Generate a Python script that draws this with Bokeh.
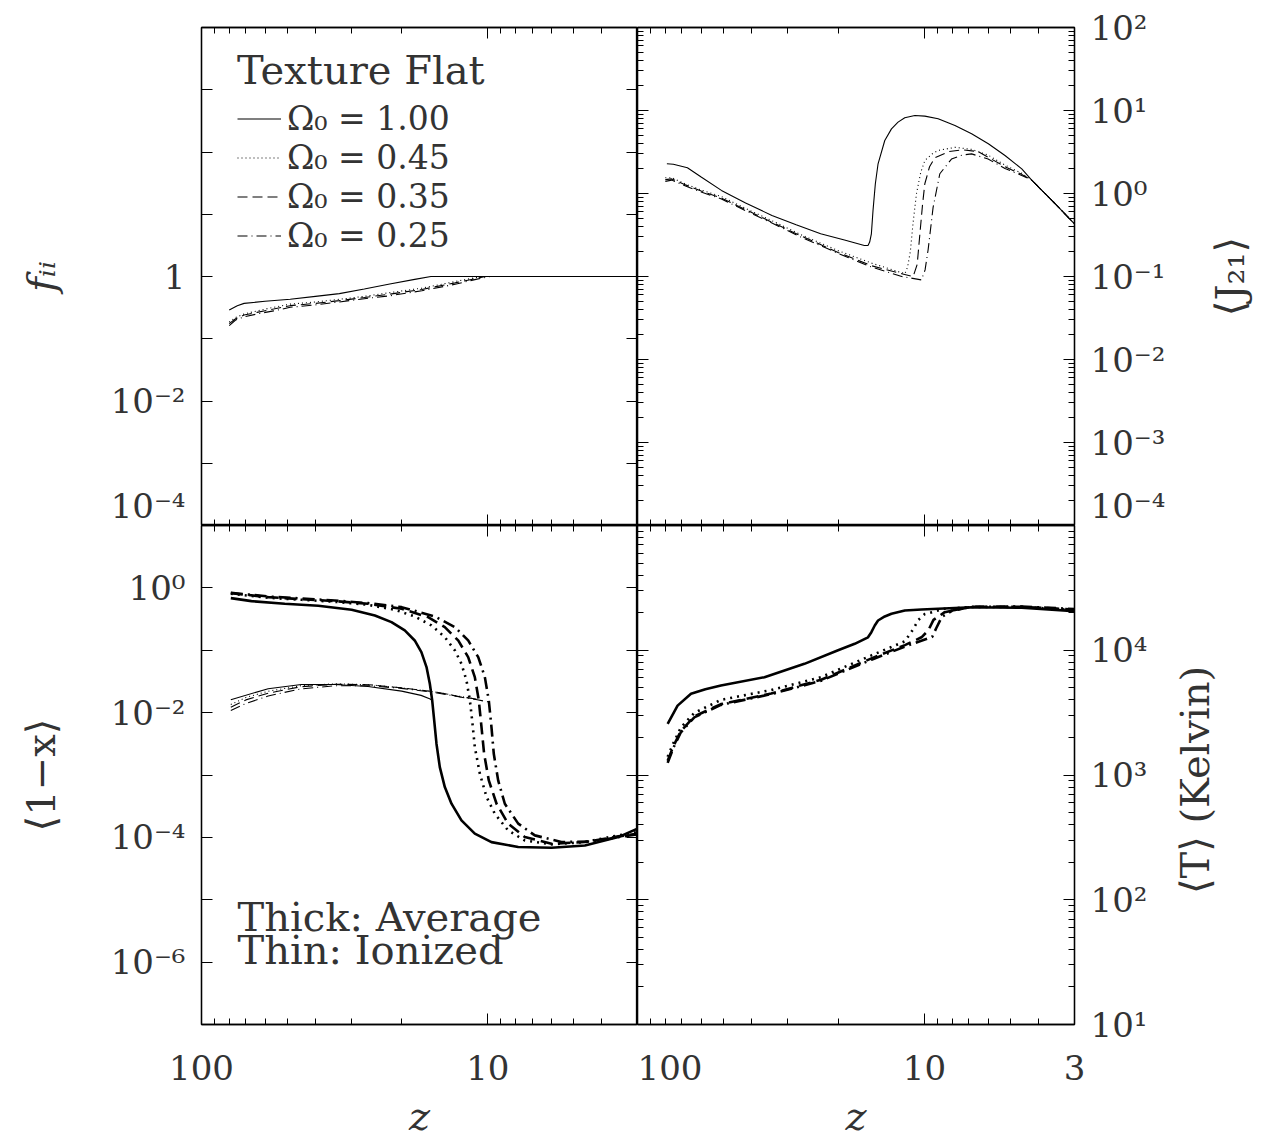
import math
from bokeh.plotting import figure
from bokeh.layouts import gridplot
from bokeh.models import Range1d, LogAxis, FixedTicker, Legend, LegendItem, Label
from bokeh.core.properties import value
from bokeh.embed import file_html
from bokeh.resources import INLINE

# ---------------- data ----------------
OMEGA_LABELS = ["Ω₀ = 1.00", "Ω₀ = 0.45", "Ω₀ = 0.35", "Ω₀ = 0.25"]
X_TICKS_LEFT = [10, 100]
X_TICKS_RIGHT = [3, 10, 100]
X_LABELS = {100: "100", 10: "10", 3: "3"}
X_MINOR = [4, 5, 6, 7, 8, 9, 20, 30, 40, 50, 60, 70, 80, 90]

# top-left: f_II
z_fii_100 = [80, 75, 71, 60, 49, 40, 33, 27, 22, 18, 15.8, 10, 5, 3]
fii_100 = [0.29, 0.34, 0.37, 0.40, 0.43, 0.48, 0.53, 0.63, 0.76, 0.90, 1.0, 1.0, 1.0, 1.0]
z_fii_045 = [80, 76, 71, 64, 56, 49, 40, 33, 27, 22, 17, 13, 11, 10.5, 3]
fii_045 = [0.185, 0.22, 0.25, 0.28, 0.32, 0.36, 0.39, 0.43, 0.48, 0.55, 0.65, 0.83, 0.96, 1.0, 1.0]
z_fii_035 = [80, 76, 71, 64, 56, 49, 40, 33, 27, 22, 17, 13, 11, 10.2, 3]
fii_035 = [0.175, 0.21, 0.24, 0.265, 0.30, 0.34, 0.37, 0.41, 0.46, 0.52, 0.62, 0.79, 0.93, 1.0, 1.0]
z_fii_025 = [80, 76, 71, 64, 56, 49, 40, 33, 27, 22, 17, 13, 11, 9.8, 3]
fii_025 = [0.163, 0.20, 0.225, 0.25, 0.28, 0.32, 0.35, 0.39, 0.44, 0.49, 0.59, 0.75, 0.90, 1.0, 1.0]

# top-right: <J21>
z_j_100 = [79, 75, 67, 60, 51, 42, 34, 28, 23, 19, 16.2, 15.73, 15.52, 15.31, 15.11, 14.83, 14.51, 13.75,
           13.03, 12.36, 11.71, 10.8, 9.97, 8.96, 7.83, 6.85, 5.99, 5.24, 4.58, 4.23, 3.5, 3.0]
j_100 = [2.28, 2.25, 2.04, 1.58, 1.09, 0.77, 0.543, 0.42, 0.327, 0.275, 0.236, 0.236, 0.26, 0.327, 0.624, 1.31,
         2.28, 4.35, 6.01, 7.24, 8.16, 8.71, 8.55, 7.94, 6.6, 5.24, 3.98, 2.87, 1.98, 1.45, 0.75, 0.43]
z_j_045 = [80, 76, 68, 60, 51, 42, 34, 27, 20, 15.3, 11.7, 11.45, 11.2, 10.95, 10.66, 10.3, 9.97, 9.4, 8.96,
           7.83, 6.85, 6.0, 5.24, 4.58, 4.23, 3.5, 3.0]
j_045 = [1.55, 1.55, 1.3, 1.1, 0.92, 0.66, 0.47, 0.32, 0.205, 0.145, 0.108, 0.13, 0.2, 0.45, 1.0, 1.8, 2.5, 3.0,
         3.3, 3.6, 3.4, 2.9, 2.2, 1.75, 1.45, 0.75, 0.43]
z_j_035 = [80, 76, 68, 60, 51, 42, 34, 27, 20, 15.3, 12, 10.95, 10.6, 10.37, 10.15, 9.97, 9.6, 9.2, 8.2, 7.33,
           6.5, 5.24, 4.58, 4.23, 3.5, 3.0]
j_035 = [1.47, 1.5, 1.27, 1.07, 0.88, 0.64, 0.45, 0.31, 0.195, 0.135, 0.108, 0.1, 0.14, 0.33, 0.75, 1.31, 2.1,
         2.7, 3.2, 3.36, 3.2, 2.1, 1.7, 1.45, 0.75, 0.43]
z_j_025 = [80, 76, 68, 60, 51, 42, 34, 27, 20, 15.3, 12, 10.24, 9.95, 9.71, 9.33, 8.84, 8.05, 7.4, 6.85, 6.0,
           5.24, 4.58, 4.23, 3.5, 3.0]
j_025 = [1.40, 1.45, 1.23, 1.04, 0.86, 0.62, 0.44, 0.30, 0.19, 0.13, 0.1, 0.091, 0.12, 0.21, 0.68, 1.73, 2.6,
         2.9, 3.0, 2.6, 2.0, 1.65, 1.45, 0.75, 0.43]

# bottom-left: <1-x>, thick = average
z_avg_100 = [79.0, 66.9, 51.2, 39.1, 29.9, 24.8, 21.7, 19.5, 18.0, 17.06, 16.37, 15.94, 15.64, 15.39, 15.11,
             14.71, 14.13, 13.39, 12.36, 11.1, 9.71, 7.83, 5.99, 4.58, 3.5, 3.0]
avg_100 = [0.685, 0.613, 0.556, 0.516, 0.445, 0.361, 0.282, 0.208, 0.1435, 0.0933, 0.0537, 0.029, 0.0157,
           0.0075, 3.17e-3, 1.34e-3, 6.4e-4, 3.47e-4, 1.87e-4, 1.15e-4, 8.4e-5, 7.0e-5, 6.8e-5, 7.4e-5,
           1.01e-4, 1.38e-4]
z_avg_045 = [79.0, 58.5, 44.7, 34.2, 26.2, 21.1, 18.0, 15.73, 14.13, 13.03, 12.36, 11.87, 11.55, 11.34, 11.1,
             10.66, 10.10, 9.45, 8.49, 7.43, 5.99, 4.58, 3.5, 3.0]
avg_045 = [0.803, 0.693, 0.644, 0.598, 0.535, 0.445, 0.348, 0.2497, 0.1624, 0.0993, 0.0607, 0.0328, 0.01568,
           7.5e-3, 2.8e-3, 1.05e-3, 4.43e-4, 2.39e-4, 1.29e-4, 8.95e-5, 7.72e-5, 8.41e-5, 1.077e-4, 1.22e-4]
z_avg_035 = [79.0, 58.5, 44.7, 34.2, 26.2, 20.0, 16.16, 14.13, 12.69, 11.71, 11.1, 10.75, 10.52, 10.30, 9.92,
             9.32, 8.49, 7.43, 5.99, 4.58, 3.5, 3.0]
avg_035 = [0.823, 0.710, 0.660, 0.613, 0.556, 0.462, 0.340, 0.2348, 0.1436, 0.0776, 0.0371, 0.01568, 5.86e-3,
           2.19e-3, 8.19e-4, 3.46e-4, 1.66e-4, 1.012e-4, 7.91e-5, 8.41e-5, 1.038e-4, 1.145e-4]
z_avg_025 = [79.0, 58.5, 44.7, 34.2, 26.2, 20.0, 15.31, 13.03, 11.71, 10.80, 10.24, 9.92, 9.71, 9.53, 9.20,
             8.72, 7.83, 6.85, 5.53, 4.23, 3.5, 3.0]
avg_025 = [0.834, 0.728, 0.676, 0.628, 0.569, 0.491, 0.348, 0.2348, 0.1436, 0.0776, 0.0371, 0.01568, 5.86e-3,
           2.19e-3, 8.19e-4, 3.46e-4, 1.66e-4, 1.077e-4, 8.41e-5, 8.63e-5, 1.012e-4, 1.117e-4]

# bottom-left: <1-x>, thin = ionized
z_ion_100 = [79, 58.5, 44.8, 34.2, 26.2, 20.0, 17.1, 15.9, 15.6]
ion_100 = [0.0161, 0.0242, 0.0283, 0.0283, 0.0263, 0.0221, 0.0189, 0.0165, 0.0157]
z_ion_045 = [79, 70, 58.5, 45, 34, 26, 20, 15.3, 12.5, 11.4]
ion_045 = [0.0135, 0.0175, 0.022, 0.027, 0.029, 0.028, 0.025, 0.0215, 0.0182, 0.017]
z_ion_035 = [79, 70, 58.5, 45, 34, 26, 20, 15.3, 12.5, 11.0, 10.6]
ion_035 = [0.0122, 0.016, 0.0205, 0.026, 0.0285, 0.028, 0.025, 0.0215, 0.018, 0.0165, 0.016]
z_ion_025 = [79, 70, 58.5, 45, 34, 26, 20, 15.3, 12.5, 11.0, 9.9]
ion_025 = [0.0108, 0.014, 0.0185, 0.024, 0.027, 0.027, 0.0245, 0.021, 0.0178, 0.0162, 0.0148]

# bottom-right: <T>
z_t_100 = [78.5, 72.5, 65.1, 58, 51.2, 36.1, 26.2, 20.0, 17.5, 15.73, 15.31, 14.9, 14.51, 13.75, 13.03, 11.71,
           10.24, 6.85, 4.58, 3.0]
t_100 = [2570, 3600, 4480, 4870, 5210, 6080, 7780, 10000, 11260, 12700, 13960, 15800, 17320, 18650, 19590,
         20830, 21220, 22100, 21900, 20600]
z_t_045 = [78.5, 75, 70.6, 63.4, 51.2, 34.2, 22.9, 15.3, 11.7, 11.0, 10.5, 9.97, 8.5, 6.85, 4.58, 3.0]
t_045 = [1400, 1800, 2400, 3150, 4000, 4800, 6100, 9100, 11800, 14500, 17500, 19500, 21500, 22200, 22200, 21000]
z_t_035 = [78.5, 75, 70.6, 63.4, 51.2, 34.2, 22.9, 15.3, 11.7, 10.24, 9.7, 9.3, 8.5, 6.85, 4.58, 3.0]
t_035 = [1300, 1700, 2250, 2950, 3700, 4500, 5800, 8600, 11000, 12700, 14400, 17500, 20200, 22300, 22300, 21200]
z_t_025 = [78.5, 75, 70.6, 63.4, 51.2, 34.2, 22.9, 15.3, 11.7, 9.97, 9.4, 9.1, 8.7, 8.0, 6.85, 4.58, 3.0]
t_025 = [1250, 1650, 2200, 2900, 3650, 4450, 5700, 8400, 10700, 12200, 12800, 15000, 18500, 20800, 22300,
         22400, 21400]

# ---------------- styling ----------------
FONT = "DejaVu Serif"
TXT = "#333333"
TICK_FS = "34px"
LABEL_FS = "40px"
THIN_DASH = ["solid", "1 3", "10 5", "10 4 1 4"]
THICK_DASH = ["solid", "2 5", "12 6", "12 5 2 5"]
SUP = str.maketrans("-0123456789", "⁻⁰¹²³⁴⁵⁶⁷⁸⁹")


def pow_label(e):
    return "10" + str(e).translate(SUP)


def make_fig(y0, y1, fw, fh, mbl, mbr, mbt, mbb):
    p = figure(x_axis_type="log", y_axis_type="log",
               x_range=Range1d(100, 3), y_range=Range1d(y0, y1),
               x_axis_location=None, y_axis_location=None,
               frame_width=fw, frame_height=fh,
               min_border_left=mbl, min_border_right=mbr,
               min_border_top=mbt, min_border_bottom=mbb,
               output_backend="svg", toolbar_location=None)
    p.xgrid.visible = False
    p.ygrid.visible = False
    p.outline_line_color = "black"
    p.outline_line_width = 1.3
    p.background_fill_color = "white"
    p.border_fill_color = "white"
    return p


def add_axis(p, place, ticks, minor, labels=None, standoff=16,
             title=None, title_standoff=40, italic=False):
    ax = LogAxis(ticker=FixedTicker(ticks=ticks, minor_ticks=minor))
    ax.major_tick_in = 11
    ax.major_tick_out = 0
    ax.minor_tick_in = 6
    ax.minor_tick_out = 0
    ax.axis_line_color = "black"
    ax.axis_line_width = 1.3
    ax.major_tick_line_color = "black"
    ax.minor_tick_line_color = "black"
    if labels is None:
        ax.major_label_text_font_size = "0px"
        ax.major_label_standoff = 0
        ax.major_label_overrides = {t: "" for t in ticks}
    else:
        ax.major_label_overrides = labels
        ax.major_label_text_font = FONT
        ax.major_label_text_font_size = TICK_FS
        ax.major_label_text_color = TXT
        ax.major_label_standoff = standoff
    if title is not None:
        ax.axis_label = title
        ax.axis_label_text_font = FONT
        ax.axis_label_text_font_size = LABEL_FS
        ax.axis_label_text_color = TXT
        ax.axis_label_text_font_style = "italic" if italic else "normal"
        ax.axis_label_standoff = title_standoff
    p.add_layout(ax, place)
    return ax


def title_strip(text, fh, mbt, mbb, xpos, ypos):
    # narrow strip holding a right-hand axis title that reads bottom-to-top
    q = figure(x_range=Range1d(0, 1), y_range=Range1d(0, 1),
               x_axis_location=None, y_axis_location=None,
               frame_width=STRIP_W, frame_height=fh,
               min_border_left=0, min_border_right=0,
               min_border_top=mbt, min_border_bottom=mbb,
               output_backend="svg", toolbar_location=None)
    q.xgrid.visible = False
    q.ygrid.visible = False
    q.outline_line_color = None
    q.background_fill_color = "white"
    q.border_fill_color = "white"
    q.text(x=[xpos], y=[ypos], text=[text], angle=math.pi / 2,
           text_align="center", text_baseline="middle",
           text_font=value(FONT), text_font_size=value(LABEL_FS), text_color=TXT)
    return q


def decades(e0, e1):
    return [10.0 ** e for e in range(e0, e1 + 1)]


def minors(e0, e1):
    return [m * 10.0 ** e for e in range(e0, e1) for m in range(2, 10)]


FW_L, FW_R = 436, 437
FH_T, FH_B = 498, 499
MB_L, MB_R, MB_T, MB_B = 201, 90, 27, 116
STRIP_W = 94

# ---------------- top-left: f_II ----------------
p1 = make_fig(1e-4, 1e4, FW_L, FH_T, MB_L, 0, MB_T, 0)
y1t = decades(-4, 4)
add_axis(p1, "left", y1t, [],
         labels={t: ({0: "1", -2: pow_label(-2), -4: pow_label(-4)}.get(round(math.log10(t)), "")) for t in y1t},
         title="fᵢᵢ", italic=True, title_standoff=44)
add_axis(p1, "right", y1t, [])
add_axis(p1, "above", X_TICKS_RIGHT, X_MINOR)
add_axis(p1, "below", X_TICKS_RIGHT, X_MINOR)
rs = []
for zz, vv, dash in zip([z_fii_100, z_fii_045, z_fii_035, z_fii_025],
                        [fii_100, fii_045, fii_035, fii_025], THIN_DASH):
    rs.append(p1.line(zz, vv, line_color="black", line_width=1.1, line_dash=dash))
legend = Legend(items=[LegendItem(label=lab, renderers=[r]) for lab, r in zip(OMEGA_LABELS, rs)],
                title="Texture Flat", location=(36, 270))
legend.title_text_font = FONT
legend.title_text_font_size = LABEL_FS
legend.title_text_font_style = "normal"
legend.title_text_color = TXT
legend.title_standoff = 6
legend.label_text_font = FONT
legend.label_text_font_size = "33px"
legend.label_text_line_height = 1.1
legend.label_text_color = TXT
legend.label_height = 37
legend.glyph_height = 37
legend.glyph_width = 44
legend.label_standoff = 6
legend.spacing = 0
legend.padding = 0
legend.margin = 0
legend.border_line_color = None
legend.background_fill_alpha = 0
p1.add_layout(legend)

# ---------------- top-right: <J21> ----------------
p2 = make_fig(1e-4, 1e2, FW_R, FH_T, 0, MB_R, MB_T, 0)
y2t = decades(-4, 2)
add_axis(p2, "left", y2t, minors(-4, 2))
add_axis(p2, "right", y2t, minors(-4, 2),
         labels={t: pow_label(round(math.log10(t))) for t in y2t})
add_axis(p2, "above", X_TICKS_RIGHT, X_MINOR)
add_axis(p2, "below", X_TICKS_RIGHT, X_MINOR)
for zz, vv, dash in zip([z_j_100, z_j_045, z_j_035, z_j_025],
                        [j_100, j_045, j_035, j_025], THIN_DASH):
    p2.line(zz, vv, line_color="black", line_width=1.1, line_dash=dash)
q1 = title_strip("⟨J₂₁⟩", FH_T, MB_T, 0, 0.649, 0.5)

# ---------------- bottom-left: <1-x> ----------------
p3 = make_fig(1e-7, 1e1, FW_L, FH_B, MB_L, 0, 0, MB_B)
y3t = decades(-7, 1)
add_axis(p3, "left", y3t, [],
         labels={t: (pow_label(round(math.log10(t))) if round(math.log10(t)) in (0, -2, -4, -6) else "") for t in y3t},
         title="⟨1−x⟩", title_standoff=44)
add_axis(p3, "right", y3t, [])
add_axis(p3, "above", X_TICKS_RIGHT, X_MINOR)
add_axis(p3, "below", X_TICKS_LEFT, X_MINOR + [3],
         labels={t: X_LABELS[t] for t in X_TICKS_LEFT}, standoff=30,
         title="z", italic=True, title_standoff=10)
for zz, vv, dash in zip([z_avg_100, z_avg_045, z_avg_035, z_avg_025],
                        [avg_100, avg_045, avg_035, avg_025], THICK_DASH):
    p3.line(zz, vv, line_color="black", line_width=2.6, line_dash=dash)
for zz, vv, dash in zip([z_ion_100, z_ion_045, z_ion_035, z_ion_025],
                        [ion_100, ion_045, ion_035, ion_025], THIN_DASH):
    p3.line(zz, vv, line_color="black", line_width=1.1, line_dash=dash)
for txt, yv in [("Thick: Average", 5.2e-6), ("Thin: Ionized", 1.54e-6)]:
    p3.add_layout(Label(x=74.8, y=yv, text=txt, text_font=FONT, text_font_size=LABEL_FS,
                        text_color=TXT, text_baseline="alphabetic"))

# ---------------- bottom-right: <T> ----------------
p4 = make_fig(1e1, 1e5, FW_R, FH_B, 0, MB_R, 0, MB_B)
y4t = decades(1, 5)
add_axis(p4, "left", y4t, minors(1, 5))
add_axis(p4, "right", y4t, minors(1, 5),
         labels={t: (pow_label(round(math.log10(t))) if t < 1e5 else "") for t in y4t})
add_axis(p4, "above", X_TICKS_RIGHT, X_MINOR)
add_axis(p4, "below", X_TICKS_RIGHT, X_MINOR,
         labels={t: X_LABELS[t] for t in X_TICKS_RIGHT}, standoff=30,
         title="z", italic=True, title_standoff=10)
for zz, vv, dash in zip([z_t_100, z_t_045, z_t_035, z_t_025],
                        [t_100, t_045, t_035, t_025], THICK_DASH):
    p4.line(zz, vv, line_color="black", line_width=2.6, line_dash=dash)
q2 = title_strip("⟨T⟩ (Kelvin)", FH_B, 0, MB_B, 0.277, 0.49)

grid = gridplot([[p1, p2, q1], [p3, p4, q2]], toolbar_location=None)
open("out.html", "w").write(file_html(grid, INLINE))
